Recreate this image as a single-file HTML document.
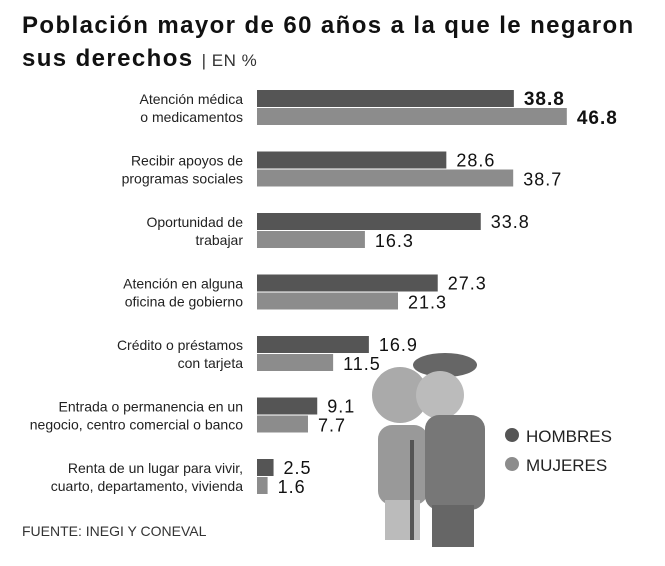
<!DOCTYPE html>
<html><head><meta charset="utf-8"><style>
body{margin:0;background:#fff;width:665px;height:561px;overflow:hidden;font-family:"Liberation Sans",sans-serif}
</style></head><body>
<svg width="665" height="561" xmlns="http://www.w3.org/2000/svg">
<text x="22" y="33" font-size="24" font-weight="bold" fill="#111" letter-spacing="1.4">Población mayor de 60 años a la que le negaron</text>
<text x="22" y="66" font-size="24" font-weight="bold" fill="#111" letter-spacing="1.4">sus derechos <tspan font-weight="normal" font-size="17" fill="#333" letter-spacing="0.5">| EN %</tspan></text>
<g id="bars"></g>
<g fill="#777">
  <circle cx="400" cy="395" r="28" fill="#aaa"/>
  <rect x="378" y="425" width="50" height="80" rx="14" fill="#999"/>
  <rect x="385" y="500" width="35" height="40" fill="#bbb"/>
  <rect x="410" y="440" width="4" height="100" fill="#555"/>
  <ellipse cx="445" cy="365" rx="32" ry="12" fill="#666"/>
  <circle cx="440" cy="395" r="24" fill="#bbb"/>
  <rect x="425" y="415" width="60" height="95" rx="14" fill="#777"/>
  <rect x="432" y="505" width="42" height="42" fill="#666"/>
</g>
<circle cx="512" cy="435" r="7" fill="#555"/>
<text x="526" y="442" font-size="17" fill="#222">HOMBRES</text>
<circle cx="512" cy="464" r="7" fill="#8c8c8c"/>
<text x="526" y="471" font-size="17" fill="#222">MUJERES</text>
<text x="22" y="536" font-size="14" fill="#333">FUENTE: INEGI Y CONEVAL</text>
</svg>
<script>
const categories=[["Atención médica","o medicamentos"],["Recibir apoyos de","programas sociales"],["Oportunidad de","trabajar"],["Atención en alguna","oficina de gobierno"],["Crédito o préstamos","con tarjeta"],["Entrada o permanencia en un","negocio, centro comercial o banco"],["Renta de un lugar para vivir,","cuarto, departamento, vivienda"]];
const hombres=[38.8,28.6,33.8,27.3,16.9,9.1,2.5];
const mujeres=[46.8,38.7,16.3,21.3,11.5,7.7,1.6];
const NS="http://www.w3.org/2000/svg";
const g=document.getElementById('bars');
const x=v=>v*6.62, X0=257, gy=i=>90+i*61.5;
function mk(t,a){const e=document.createElementNS(NS,t);for(const k in a)e.setAttribute(k,a[k]);g.appendChild(e);return e;}
categories.forEach((c,i)=>{
  const y=gy(i);
  const l1=mk('text',{x:243,y:y+14,'font-size':14,'text-anchor':'end',fill:'#222'});l1.textContent=c[0];
  
  
  const l2=mk('text',{x:243,y:y+32,'font-size':14,'text-anchor':'end',fill:'#222'});l2.textContent=c[1];
  
  
  const b1=mk('rect',{x:X0,y:y,width:x(hombres[i]),height:17,fill:'#555'});
  
  
  const b2=mk('rect',{x:X0,y:y+18,width:x(mujeres[i]),height:17,fill:'#8c8c8c'});
  
  
  const bold=i===0;
  const v1=mk('text',{x:X0+x(hombres[i])+10,y:y+15,'font-size':bold?19:18,'font-weight':bold?'bold':'normal',fill:'#111','letter-spacing':1});v1.textContent=hombres[i].toFixed(1);
  
  
  const v2=mk('text',{x:X0+x(mujeres[i])+10,y:y+34,'font-size':bold?19:18,'font-weight':bold?'bold':'normal',fill:'#111','letter-spacing':1});v2.textContent=mujeres[i].toFixed(1);
  
  
});
</script>
</body></html>
